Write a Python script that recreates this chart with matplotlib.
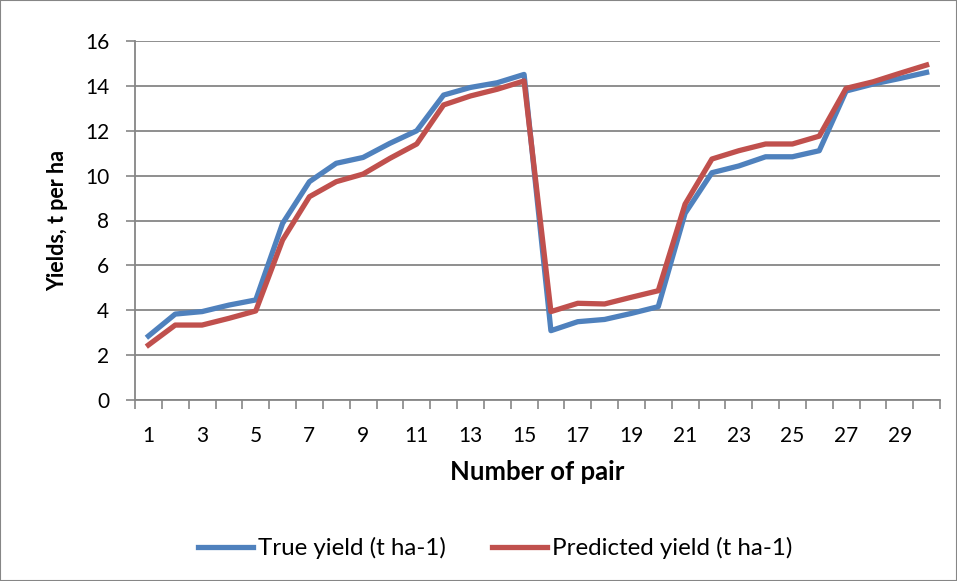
import numpy as np
import matplotlib.pyplot as plt
from matplotlib.patches import Rectangle

plt.rcParams['font.family'] = ['Lato', 'DejaVu Sans']

pairs = np.arange(1, 31)
true_yield = [2.85, 3.83, 3.94, 4.23, 4.46, 7.87, 9.73, 10.55, 10.81, 11.44,
              12.0, 13.59, 13.93, 14.14, 14.51, 3.09, 3.49, 3.59, 3.86, 4.16,
              8.32, 10.13, 10.43, 10.84, 10.84, 11.11, 13.77, 14.08, 14.33, 14.6]
pred_yield = [2.45, 3.34, 3.34, 3.64, 3.97, 7.13, 9.06, 9.73, 10.07, 10.77,
              11.41, 13.15, 13.55, 13.85, 14.22, 3.94, 4.31, 4.28, 4.58, 4.87,
              8.73, 10.74, 11.11, 11.41, 11.41, 11.76, 13.89, 14.18, 14.56, 14.93]
x_labels = [str(i) for i in range(1, 30, 2)]
y_ticks = list(range(0, 17, 2))

fig = plt.figure(figsize=(9.57, 5.81), dpi=100)
ax = fig.add_axes([135/957, 1-400/581, 805/957, 359/581])

grid_c = '#868686'
ax.plot(pairs, true_yield, color='#4F81BD', lw=3.8, label='True yield (t ha-1)', zorder=3)
ax.plot(pairs, pred_yield, color='#C0504D', lw=3.8, label='Predicted yield (t ha-1)', zorder=4)

ax.set_xlim(0.5, 30.5)
ax.set_ylim(0, 16)
ax.set_yticks(y_ticks)
ax.set_xticks(range(1, 30, 2))
ax.set_xticklabels(x_labels)
ax.set_xticks(np.arange(0.5, 31, 1), minor=True)
ax.tick_params(axis='x', which='major', length=0, pad=19, labelsize=15)
ax.tick_params(axis='x', which='minor', length=6.5, width=1.2, color=grid_c, direction='out')
ax.tick_params(axis='y', length=6.5, width=1.2, color=grid_c, labelsize=15, pad=12)
ax.yaxis.grid(True, color=grid_c, lw=1.3)
ax.set_axisbelow(True)
for s in ['top', 'right']:
    ax.spines[s].set_visible(False)
for s in ['left', 'bottom']:
    ax.spines[s].set_color(grid_c)
    ax.spines[s].set_linewidth(1.3)

ax.set_xlabel('Number of pair', fontsize=18.5, fontweight='bold', labelpad=10)
ax.set_ylabel('Yields, t per ha', fontsize=15.5, fontweight='bold', labelpad=12)

fig.legend(loc='center', bbox_to_anchor=(495/957, 1-548/581), ncol=2, frameon=False,
           fontsize=17.4, handlelength=2.3, columnspacing=1.9, handletextpad=0.2)

fig.patches.append(Rectangle((0, 0), 1, 1, transform=fig.transFigure, fill=False,
                             edgecolor='#868686', lw=1.5))

fig.savefig('out.png', dpi=100)
